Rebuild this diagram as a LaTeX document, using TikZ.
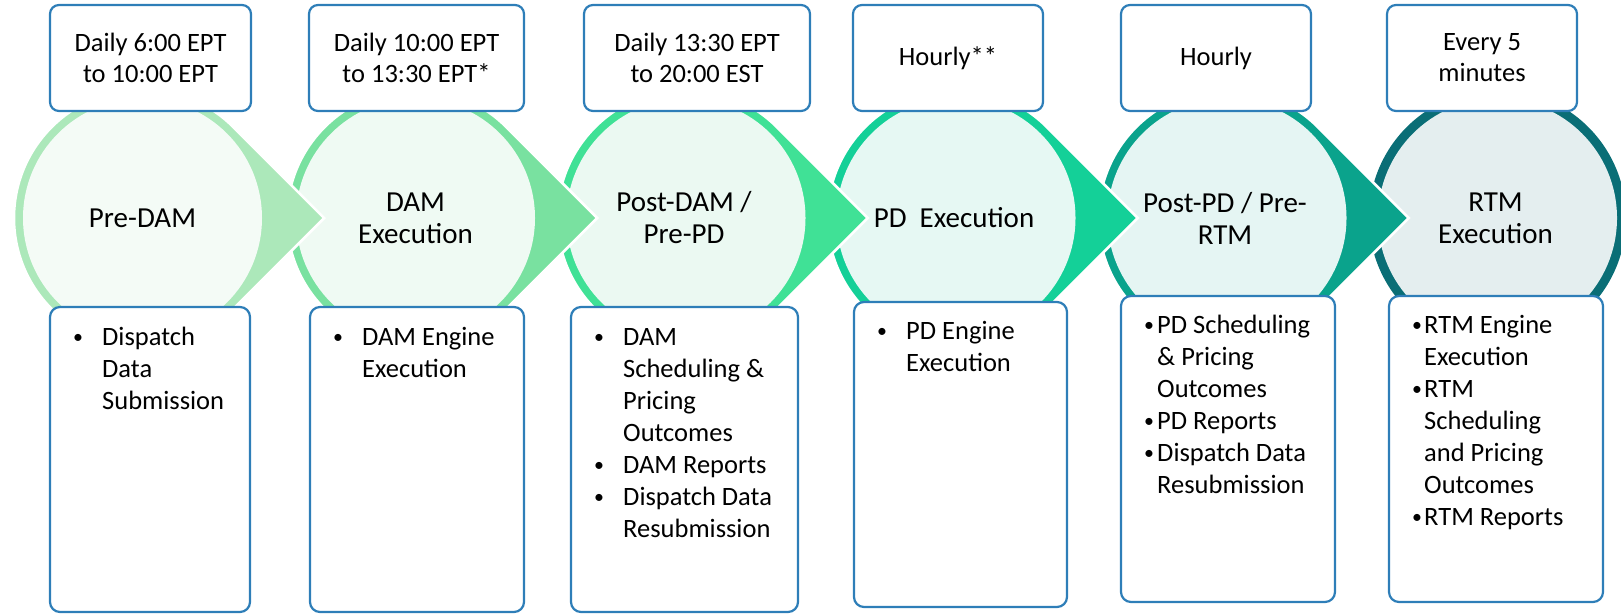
\documentclass[tikz,border=0pt]{standalone}
\usepackage{fontspec}
\setmainfont{Carlito}
\usepackage{graphicx}
\usepackage{tikz}
\usetikzlibrary{positioning,calc}
\usepackage{xcolor}
\definecolor{ringA}{HTML}{ACE8BA}
\definecolor{ringB}{HTML}{79E1A0}
\definecolor{ringC}{HTML}{40E196}
\definecolor{ringD}{HTML}{14D098}
\definecolor{ringE}{HTML}{0AA38C}
\definecolor{ringF}{HTML}{0A6E76}
\definecolor{coreA}{HTML}{F4FBF6}
\definecolor{coreB}{HTML}{EFFAF3}
\definecolor{coreC}{HTML}{EBF9F2}
\definecolor{coreD}{HTML}{E6F8F3}
\definecolor{coreE}{HTML}{E5F5F3}
\definecolor{coreF}{HTML}{E4EEEF}
\definecolor{boxblue}{HTML}{2E7EB8}
\newcommand{\blt}[1]{\rule{0pt}{20pt}\makebox[#1][l]{\hspace*{2pt}\raisebox{1.5pt}{\scalebox{0.75}{\textbullet}}}}
\newcommand{\bgap}[1]{\rule{0pt}{20pt}\hspace*{#1}}
\tikzset{
    drop/.style={
        draw=white,
        line width=2.5pt
    },
    timebox/.style={
        draw=boxblue,
        fill=white,
        rounded corners=9pt,
        line width=2.2pt,
        align=center,
        minimum height=106pt,
        inner sep=0pt,
        font=\fontsize{26.5}{31}\selectfont
    },
    listbox/.style={
        draw=boxblue,
        fill=white,
        rounded corners=10pt,
        line width=2.2pt,
        inner sep=0pt
    },
    listtext/.style={
        anchor=north west,
        align=left,
        inner sep=0pt,
        font=\fontsize{26.5}{32}\selectfont
    },
    phase/.style={
        align=center,
        inner sep=0pt,
        font=\fontsize{29}{32}\selectfont
    }
}

\begin{document}
\begin{tikzpicture}[x=1pt, y=1pt]
  \useasboundingbox (0,0) rectangle (1621,-613);
  \clip (0,0) rectangle (1621,-613);

  % Phase circles, drawn right to left so each point lies on the next circle
  \fill[ringF] (1497.5,-218) circle[radius=128.5];
  \fill[coreF] (1497.5,-218) circle[radius=119.5];

  \path[drop, fill=ringE] (1227,-218) ++(45:128.5) -- ++(-45:128.5) -- ++(-135:128.5)
    arc[start angle=-45, end angle=-315, radius=128.5] -- cycle;
  \fill[coreE] (1227,-218) circle[radius=119.5];

  \path[drop, fill=ringD] (956,-218) ++(45:128.5) -- ++(-45:128.5) -- ++(-135:128.5)
    arc[start angle=-45, end angle=-315, radius=128.5] -- cycle;
  \fill[coreD] (956,-218) circle[radius=119.5];

  \path[drop, fill=ringC] (686,-218) ++(45:128.5) -- ++(-45:128.5) -- ++(-135:128.5)
    arc[start angle=-45, end angle=-315, radius=128.5] -- cycle;
  \fill[coreC] (686,-218) circle[radius=119.5];

  \path[drop, fill=ringB] (415.5,-218) ++(45:128.5) -- ++(-45:128.5) -- ++(-135:128.5)
    arc[start angle=-45, end angle=-315, radius=128.5] -- cycle;
  \fill[coreB] (415.5,-218) circle[radius=119.5];

  \path[drop, fill=ringA] (142.5,-218) ++(45:128.5) -- ++(-45:128.5) -- ++(-135:128.5)
    arc[start angle=-45, end angle=-315, radius=128.5] -- cycle;
  \fill[coreA] (142.5,-218) circle[radius=119.5];

  % Phase names
  \node[phase] (p1) at (142.5,-218) {Pre-DAM};
  \node[phase] (p2) at (415.5,-218) {DAM\\Execution};
  \node[phase] (p3) at (684,-218) {Post-DAM /\\Pre-PD};
  \node[phase] (p4) at (954,-218) {PD\ \ Execution};
  \node[phase] (p5) at (1225,-218) {Post-PD / Pre-\\RTM};
  \node[phase] (p6) at (1495.5,-218) {RTM\\Execution};

  % Timing boxes
  \node[timebox, minimum width=201pt] (t1) at (150.5,-58) {Daily 6:00 EPT\\to 10:00 EPT};
  \node[timebox, minimum width=215pt] (t2) at (416.5,-58) {Daily 10:00 EPT\\to 13:30 EPT*};
  \node[timebox, minimum width=226pt] (t3) at (697,-58) {Daily 13:30 EPT\\to 20:00 EST};
  \node[timebox, minimum width=190pt] (t4) at (948,-58) {Hourly**};
  \node[timebox, minimum width=190pt] (t5) at (1216,-58) {Hourly};
  \node[timebox, minimum width=190pt] (t6) at (1482,-58) {Every 5\\minutes};

  % Activity boxes
  \node[listbox, minimum width=200pt, minimum height=305pt] (b1) at (150,-459.5) {};
  \node[listbox, minimum width=214pt, minimum height=305pt] (b2) at (417,-459.5) {};
  \node[listbox, minimum width=227pt, minimum height=305pt] (b3) at (684.5,-459.5) {};
  \node[listbox, minimum width=213pt, minimum height=305pt] (b4) at (960.5,-454.5) {};
  \node[listbox, minimum width=214pt, minimum height=306pt] (b5) at (1228,-449) {};
  \node[listbox, minimum width=214pt, minimum height=306pt] (b6) at (1496,-449) {};

  % Activity lists
  \node[listtext] (l1) at (71,-325) {\blt{31pt}Dispatch\\\bgap{31pt}Data\\\bgap{31pt}Submission};
  \node[listtext] (l2) at (331,-325) {\blt{31pt}DAM Engine\\\bgap{31pt}Execution};
  \node[listtext] (l3) at (592,-325) {\blt{31pt}DAM\\\bgap{31pt}Scheduling \&\\\bgap{31pt}Pricing\\\bgap{31pt}Outcomes\\\blt{31pt}DAM Reports\\\blt{31pt}Dispatch Data\\\bgap{31pt}Resubmission};
  \node[listtext] (l4) at (875,-319) {\blt{31pt}PD Engine\\\bgap{31pt}Execution};
  \node[listtext] (l5) at (1142,-313) {\blt{15pt}PD Scheduling\\\bgap{15pt}\& Pricing\\\bgap{15pt}Outcomes\\\blt{15pt}PD Reports\\\blt{15pt}Dispatch Data\\\bgap{15pt}Resubmission};
  \node[listtext] (l6) at (1410,-313) {\blt{14pt}RTM Engine\\\bgap{14pt}Execution\\\blt{14pt}RTM\\\bgap{14pt}Scheduling\\\bgap{14pt}and Pricing\\\bgap{14pt}Outcomes\\\blt{14pt}RTM Reports};
\end{tikzpicture}
\end{document}
